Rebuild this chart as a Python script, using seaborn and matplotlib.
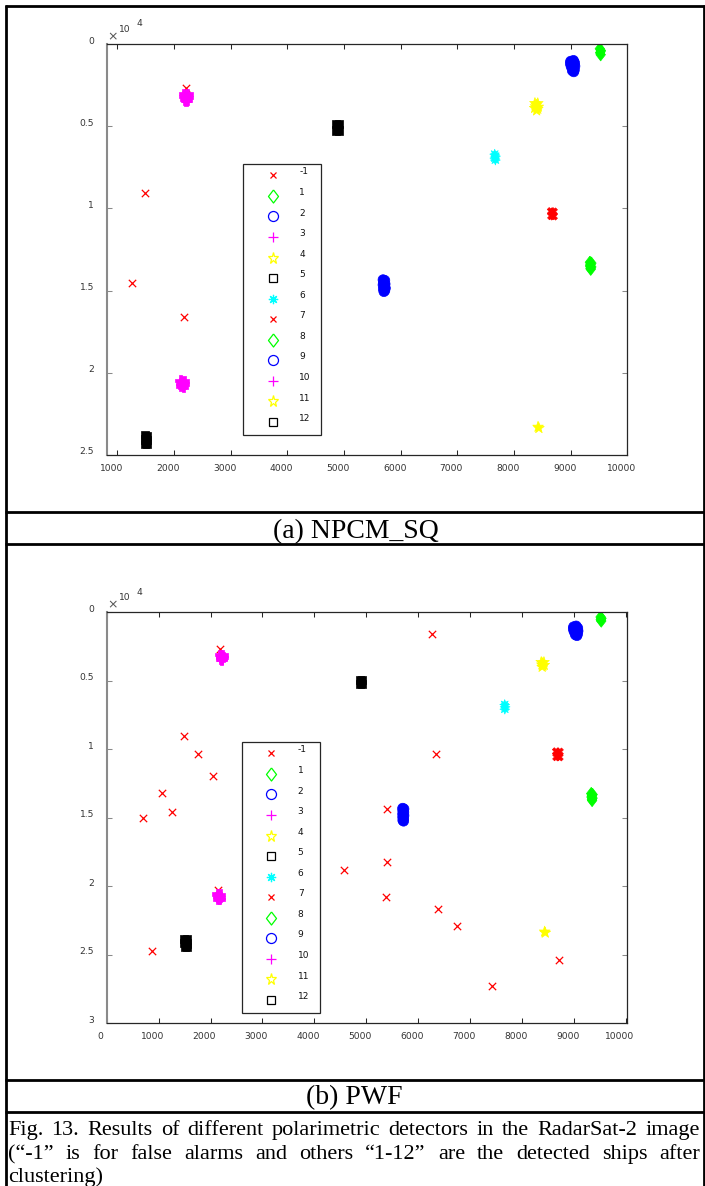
import numpy as np
import pandas as pd
import matplotlib
matplotlib.use("Agg")
import matplotlib.pyplot as plt
from matplotlib.lines import Line2D
from matplotlib.transforms import ScaledTranslation
import seaborn as sns

# ------------------------------------------------------------------
# Detection results (x = column, y = row in the RadarSat-2 scene)
# ------------------------------------------------------------------
legend_labels = ["-1", "1", "2", "3", "4", "5", "6", "7", "8", "9", "10", "11", "12"]
legend_colors = ["#ff0000", "#00ff00", "#0000ff", "#ff00ff", "#ffff00", "#000000", "#00ffff",
                 "#ff0000", "#00ff00", "#0000ff", "#ff00ff", "#ffff00", "#000000"]
legend_marks = ["x", "d", "o", "+", "p", "s", "*", "x", "d", "o", "+", "p", "s"]

# (a) NPCM_SQ -- false alarms
npcm_fa_x = [2206, 1483, 1259, 2176]
npcm_fa_y = [2650, 9050, 14520, 16590]

# (a) NPCM_SQ -- pixels of the detected ships
npcm_x = [
    9515, 9535, 9520, 9530,                                            # ship 1
    9000, 9050, 9070, 8995, 9040, 9075, 9010, 9050, 9065, 9030, 9055,  # ship 2
    2170, 2240, 2205, 2180, 2250, 2215, 2190, 2230, 2210,              # ship 3
    8370, 8420, 8395, 8380, 8430, 8405, 8365, 8420, 8400,              # ship 4
    4860, 4915, 4862, 4912, 4887,                                      # ship 5
    7660, 7675, 7662, 7672,                                            # ship 6
    8655, 8700, 8660, 8700,                                            # ship 7
    9340, 9366, 9350, 9342, 9365, 9350, 9355,                          # ship 8
    5690, 5720, 5700, 5725, 5690, 5715, 5730, 5695, 5720, 5705,        # ship 9
    2115, 2175, 2145, 2120, 2180, 2150, 2125, 2165,                    # ship 10
    8425, 8440,                                                        # ship 11
    1482, 1530, 1505, 1485, 1528, 1505, 1490, 1525,                    # ship 12
]
npcm_y = [
    290, 410, 530, 650,
    1050, 1000, 1150, 1200, 1250, 1350, 1380, 1480, 1580, 1620, 1690,
    3020, 3040, 3120, 3200, 3240, 3300, 3380, 3400, 3450,
    3600, 3610, 3700, 3800, 3820, 3880, 3900, 3950, 4050,
    4860, 4860, 5260, 5260, 5060,
    6700, 6820, 6940, 7060,
    10180, 10200, 10460, 10480,
    13280, 13330, 13410, 13500, 13560, 13640, 13700,
    14340, 14380, 14500, 14600, 14650, 14760, 14850, 14900, 15000, 15060,
    20460, 20490, 20560, 20640, 20690, 20760, 20800, 20860,
    23290, 23370,
    23790, 23820, 23930, 24060, 24090, 24200, 24310, 24330,
]
npcm_ship = (
    ["1"] * 4 + ["2"] * 11 + ["3"] * 9 + ["4"] * 9 + ["5"] * 5 + ["6"] * 4
    + ["7"] * 4 + ["8"] * 7 + ["9"] * 10 + ["10"] * 8 + ["11"] * 2 + ["12"] * 8
)

# (b) PWF -- false alarms
pwf_fa_x = [2188, 6271, 1480, 1756, 2046, 1069, 1262, 703, 2150, 876,
            5406, 4571, 5393, 5380, 6347, 6386, 6752, 7427, 8706]
pwf_fa_y = [2700, 1600, 9040, 10370, 11950, 13220, 14550, 15000, 20260, 24740,
            14340, 18830, 18220, 20770, 10370, 21650, 22910, 27240, 25390]

# (b) PWF -- pixels of the detected ships
pwf_x = [
    9515, 9532, 9518, 9528,                                            # ship 1
    8995, 9045, 9075, 8990, 9040, 9080, 9005, 9055, 9070, 9030, 9060,  # ship 2
    2185, 2235, 2210, 2195, 2240, 2215, 2200, 2212,                    # ship 3
    8372, 8424, 8398, 8385, 8430, 8405, 8390,                          # ship 4
    4878, 4925, 4878, 4925,                                            # ship 5
    7668, 7676, 7670,                                                  # ship 6
    8660, 8725, 8665, 8722,                                            # ship 7
    9335, 9362, 9348, 9340, 9360, 9348, 9352,                          # ship 8
    5702, 5726, 5705, 5724, 5703, 5726, 5704, 5722, 5706, 5720,        # ship 9
    2132, 2185, 2160, 2140, 2192, 2165, 2145, 2175,                    # ship 10
    8437, 8450,                                                        # ship 11
    1495, 1548, 1520, 1498, 1546, 1522, 1502, 1544,                    # ship 12
]
pwf_y = [
    345, 440, 540, 635,
    1060, 1000, 1150, 1220, 1260, 1360, 1400, 1480, 1580, 1640, 1700,
    3090, 3110, 3180, 3260, 3290, 3350, 3420, 3460,
    3640, 3645, 3720, 3820, 3850, 3900, 3990,
    4925, 4925, 5235, 5235,
    6730, 6900, 7070,
    10160, 10180, 10560, 10570,
    13230, 13300, 13380, 13480, 13560, 13650, 13730,
    14300, 14350, 14480, 14600, 14720, 14830, 14950, 15060, 15180, 15240,
    20560, 20590, 20660, 20750, 20790, 20850, 20910, 20950,
    23310, 23390,
    23860, 23880, 24000, 24150, 24170, 24300, 24420, 24440,
]
pwf_ship = (
    ["1"] * 4 + ["2"] * 11 + ["3"] * 8 + ["4"] * 7 + ["5"] * 4 + ["6"] * 3
    + ["7"] * 4 + ["8"] * 7 + ["9"] * 10 + ["10"] * 8 + ["11"] * 2 + ["12"] * 8
)

npcm_xticks = [1000, 2000, 3000, 4000, 5000, 6000, 7000, 8000, 9000, 10000]
pwf_xticks = [0, 1000, 2000, 3000, 4000, 5000, 6000, 7000, 8000, 9000, 10000]

caption_lines = [
    "Fig. 13. Results of different polarimetric detectors in the RadarSat-2 image",
    "(\u201c-1\u201d is for false alarms and others \u201c1-12\u201d are the detected ships after",
    "clustering)",
]

# ------------------------------------------------------------------
# Marker vocabulary (MATLAB-like symbols)
# ------------------------------------------------------------------
DIAMOND = [(0, 1), (0.77, 0), (0, -1), (-0.77, 0), (0, 1)]
HOLLOW = {"x": "x", "d": DIAMOND, "o": "o", "+": "+", "p": "*", "s": "s", "*": (8, 2, 0)}
FILLED = {"x": "X", "d": DIAMOND, "o": "o", "+": "P", "p": "*", "s": "s", "*": (8, 1, 0)}
LEG_MS = {"x": 5.0, "d": 9.4, "o": 7.2, "+": 7.0, "p": 8.3, "s": 5.8, "*": 6.7}
BLOB_S = {"x": 30, "d": 80, "o": 52, "+": 52, "p": 66, "s": 34, "*": 50}

sns.set_theme(style="white")
plt.rcParams["font.family"] = ["DejaVu Sans"]

W, H, DPI = 705, 1186, 100
fig = plt.figure(figsize=(W / DPI, H / DPI), dpi=DPI)
fig.patch.set_facecolor("white")


def px_rect(left, top, right, bottom):
    return [left / W, 1 - bottom / H, (right - left) / W, (bottom - top) / H]


def shift(dx_px, dy_px):
    return ScaledTranslation(dx_px / DPI, dy_px / DPI, fig.dpi_scale_trans)


ship_labels = legend_labels[1:]
palette = {lab: legend_colors[i + 1] for i, lab in enumerate(ship_labels)}
markers = {lab: FILLED[legend_marks[i + 1]] for i, lab in enumerate(ship_labels)}
sizes = {lab: BLOB_S[legend_marks[i + 1]] for i, lab in enumerate(ship_labels)}


def draw_panel(ax, fa_x, fa_y, xs, ys, ships, xlim, ymax, xticks, leg_box):
    sns.scatterplot(x=fa_x, y=fa_y, ax=ax, marker="x", color="#ff0000",
                    s=28, linewidth=0.9, legend=False)
    df = pd.DataFrame({"x": xs, "y": ys, "ship": ships})
    sns.scatterplot(data=df, x="x", y="y", hue="ship", style="ship", size="ship",
                    hue_order=ship_labels, style_order=ship_labels, size_order=ship_labels,
                    palette=palette, markers=markers, sizes=sizes,
                    edgecolor="face", linewidth=0.5, legend=False, ax=ax)
    ax.set_xlabel("")
    ax.set_ylabel("")
    ax.set_xlim(*xlim)
    ax.set_ylim(ymax, 0)
    ax.set_xticks(xticks)
    ax.set_xticklabels([str(v) for v in xticks])
    yt = list(range(0, ymax + 1, 5000))
    ax.set_yticks(yt)
    ax.set_yticklabels([f"{v / 1e4:g}" for v in yt])
    ax.set_facecolor("white")

    ax.tick_params(direction="in", length=3.6, width=0.75, top=True, right=True,
                   bottom=True, left=True, labelsize=6.6, labelcolor="#333333")
    ax.tick_params(axis="x", pad=6.3, color="#262626")
    ax.tick_params(axis="y", pad=9.0, color="#8a8a8a")
    for side in ["top", "right", "bottom"]:
        ax.spines[side].set_color("#262626")
        ax.spines[side].set_linewidth(0.9)
    ax.spines["left"].set_color("#8a8a8a")
    ax.spines["left"].set_linewidth(1.5)
    for sp in ax.spines.values():
        sp.set_visible(True)

    for tick in ax.xaxis.get_major_ticks():
        tick.label1.set_transform(tick.label1.get_transform() + shift(-6, 0))
    for tick in ax.yaxis.get_major_ticks():
        tick.label1.set_transform(tick.label1.get_transform() + shift(0, 4))

    # exponent marker of the row axis
    corner = ax.transAxes
    ax.text(0, 1, "\u00d7", transform=corner + shift(6, 7.6), ha="center", va="center",
            fontsize=9, color="#555555")
    ax.text(0, 1, "10", transform=corner + shift(18.3, 14.8), ha="center", va="center",
            fontsize=6.6, color="#333333")
    ax.text(0, 1, "4", transform=corner + shift(32.6, 20.0), ha="center", va="center",
            fontsize=6.6, color="#333333")

    handles = [Line2D([], [], linestyle="none", marker=HOLLOW[m], markersize=LEG_MS[m],
                      markeredgewidth=0.9, markeredgecolor=c, markerfacecolor="none")
               for m, c in zip(legend_marks, legend_colors)]
    x0, ytop, w = leg_box
    leg = ax.legend(handles, legend_labels, loc="upper left",
                    bbox_to_anchor=(x0, ytop - 0.5, w, 0.5), mode="expand",
                    borderaxespad=0, borderpad=0.86, handlelength=4.85,
                    handletextpad=0.5, labelspacing=1.28, numpoints=1, fontsize=6.5,
                    frameon=True, fancybox=False, framealpha=1,
                    edgecolor="#262626", facecolor="white")
    leg.get_frame().set_linewidth(0.9)
    for t in leg.get_texts():
        t.set_position((0, 4))
        t.set_color("#111111")


ax_a = fig.add_axes(px_rect(106.7, 44, 627.3, 455))
draw_panel(ax_a, npcm_fa_x, npcm_fa_y, npcm_x, npcm_y, npcm_ship,
           (813, 10000), 25000, npcm_xticks, (0.2624, 0.7088, 0.1498))

ax_b = fig.add_axes(px_rect(106.7, 612.3, 627.3, 1023.4))
draw_panel(ax_b, pwf_fa_x, pwf_fa_y, pwf_x, pwf_y, pwf_ship,
           (0, 10030), 30000, pwf_xticks, (0.2593, 0.6852, 0.1504))

# ------------------------------------------------------------------
# Table frame and captions
# ------------------------------------------------------------------
def fig_line(xs_px, ys_px, lw=2.0):
    fig.add_artist(Line2D([x / W for x in xs_px], [1 - y / H for y in ys_px],
                          transform=fig.transFigure, color="black", linewidth=lw,
                          solid_capstyle="butt", zorder=5))


for yy in [5.5, 511.5, 544.0, 1079.5, 1111.5]:
    fig_line([4.5, 704.5], [yy, yy])
fig_line([5.5, 5.5], [4.5, 1186])
fig_line([703.5, 703.5], [4.5, 1186])

serif = ["Liberation Serif", "DejaVu Serif"]
fig.text(356 / W, 1 - 538 / H, "(a) NPCM_SQ", ha="center", va="baseline",
         family=serif, fontsize=20, color="black")
fig.text(354 / W, 1 - 1104 / H, "(b) PWF", ha="center", va="baseline",
         family=serif, fontsize=20, color="black")

renderer = fig.canvas.get_renderer()
cap_size = 16
left_px, right_px = 8.0, 700.0
baselines = [1135, 1159, 1182]
for li, (line, base) in enumerate(zip(caption_lines, baselines)):
    words = line.split(" ")
    texts = [fig.text(0, 1 - base / H, wd, ha="left", va="baseline", family=serif,
                      fontsize=cap_size, color="black") for wd in words]
    widths = [t.get_window_extent(renderer).width for t in texts]
    last = li == len(caption_lines) - 1
    if last or len(words) == 1:
        space = fig.text(0, 0, "a a", family=serif, fontsize=cap_size)
        aa = fig.text(0, 0, "aa", family=serif, fontsize=cap_size)
        gap = space.get_window_extent(renderer).width - aa.get_window_extent(renderer).width
        space.remove()
        aa.remove()
    else:
        gap = (right_px - left_px - sum(widths)) / (len(words) - 1)
    xpos = left_px
    for t, wd in zip(texts, widths):
        t.set_x(xpos / W)
        xpos += wd + gap

fig.savefig("out.png", dpi=DPI, facecolor="white")
